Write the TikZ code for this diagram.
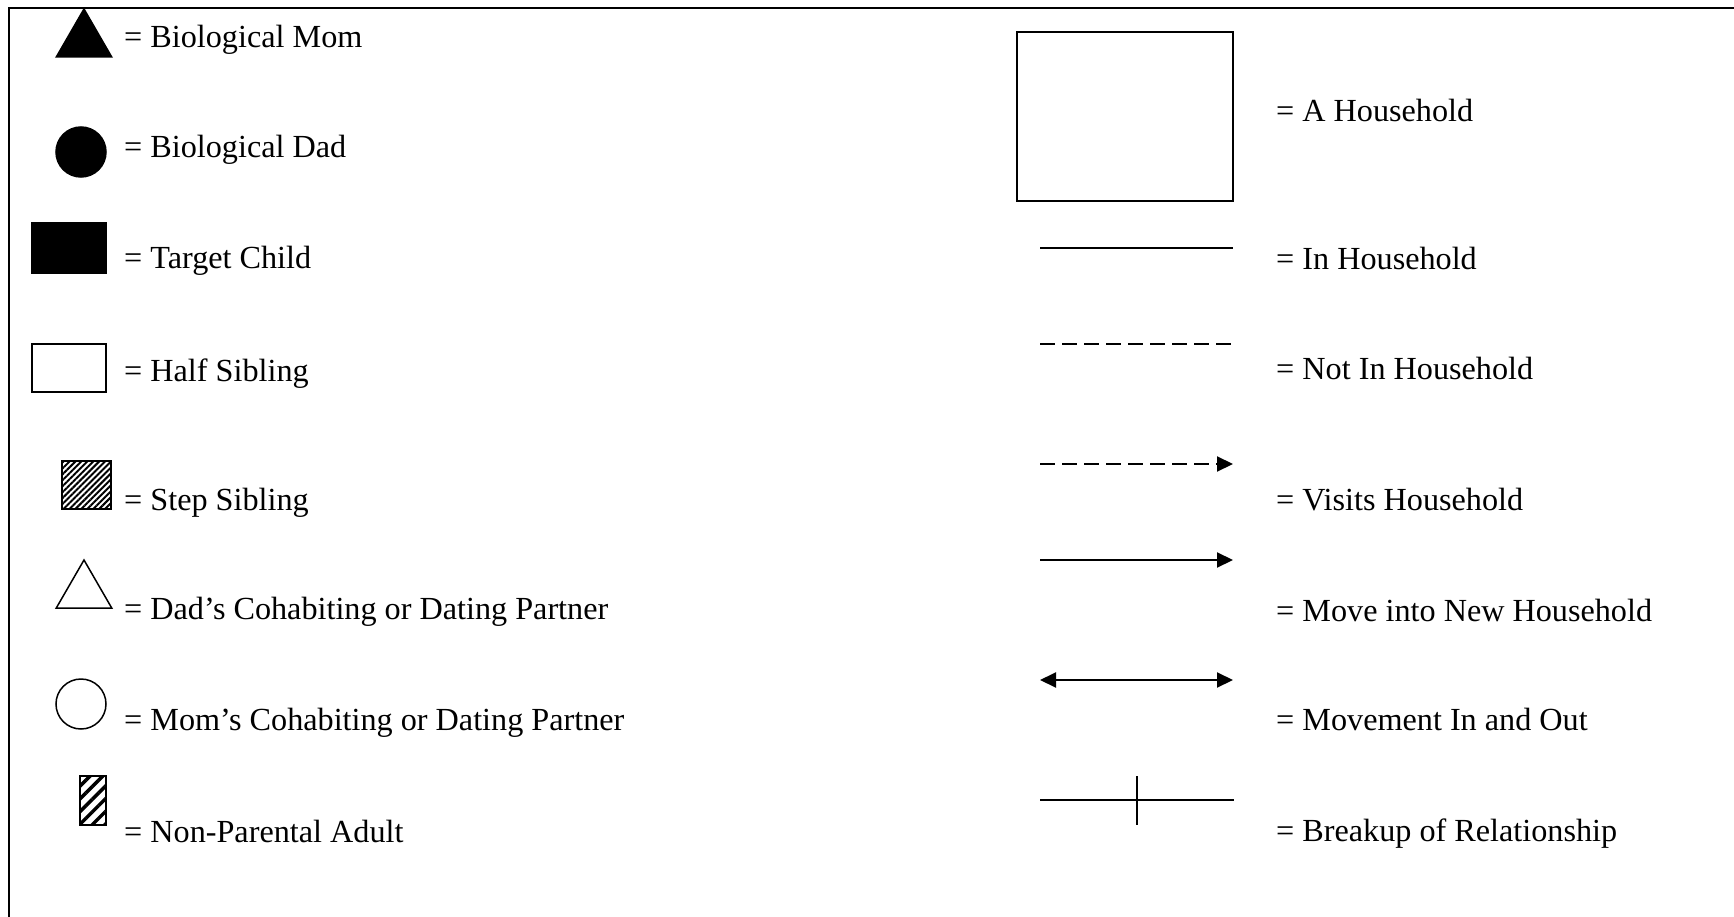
\documentclass[tikz,border=0pt]{standalone}
\usepackage{fontspec}
\setmainfont{Liberation Serif}
\usepackage{tikz}
\usetikzlibrary{arrows.meta, shapes.geometric, patterns.meta}
\newcommand{\legendsize}{\fontsize{32.2}{39}\selectfont}

\begin{document}
\begin{tikzpicture}[x=1pt, y=-1pt,
  sym/.style = {draw, line width=1.5pt, inner sep=0pt},
  tri/.style = {sym, regular polygon, regular polygon sides=3, minimum size=64pt},
  box/.style = {sym, rectangle},
  lbl/.style = {anchor=base west, inner sep=0pt, font=\legendsize},
  link/.style = {line width=2pt},
  tip/.style = {-{Triangle[length=16pt, width=15pt]}},
  gap/.style = {dash pattern=on 15pt off 7pt}]
\useasboundingbox (0,0) rectangle (1734,917);
\draw [line width=2pt] (9,917) -- (9,8) -- (1734,8);

\node[tri, fill=black](mom) at (84,41){};
\node[sym, circle, fill=black, minimum size=50pt](dad) at (81,152){};
\node[box, fill=black, minimum width=74pt, minimum height=50pt](kid) at (69,248){};
\node[box, minimum width=74pt, minimum height=48pt](half) at (69,368){};
\node[box, minimum width=49pt, minimum height=48pt, pattern={Lines[angle=45, distance=4.2pt, line width=2pt]}](step) at (86.5,485){};
\node[tri](dadp) at (84,592){};
\node[sym, circle, minimum size=50pt](momp) at (81,704){};
\node[box, minimum width=26pt, minimum height=49pt, pattern={Lines[angle=45, distance=9pt, line width=3.5pt]}](npa) at (93,800.5){};

\node[lbl](mom-t) at (124,48){= Biological Mom};
\node[lbl](dad-t) at (124,158){= Biological Dad};
\node[lbl](kid-t) at (124,269){= Target Child};
\node[lbl](half-t) at (124,381){= Half Sibling};
\node[lbl](step-t) at (124,510){= Step Sibling};
\node[lbl](dadp-t) at (124,619){= Dad’s Cohabiting or Dating Partner};
\node[lbl](momp-t) at (124,730){= Mom’s Cohabiting or Dating Partner};
\node[lbl](npa-t) at (124,842){= Non-Parental Adult};

\node[box, line width=2pt, minimum width=216pt, minimum height=169pt](home) at (1125,116.5){};
\coordinate (in-a) at (1040,248);  \coordinate (in-b) at (1233,248);
\coordinate (out-a) at (1040,344); \coordinate (out-b) at (1233,344);
\coordinate (vis-a) at (1040,464); \coordinate (vis-b) at (1233,464);
\coordinate (mov-a) at (1040,560); \coordinate (mov-b) at (1233,560);
\coordinate (io-a) at (1040,680);  \coordinate (io-b) at (1233,680);
\coordinate (brk-a) at (1040,800); \coordinate (brk-b) at (1234,800);
\coordinate (brk-c) at (1137,776); \coordinate (brk-d) at (1137,825);
\draw[link] (in-a) -- (in-b);
\draw[link, gap] (out-a) -- (out-b);
\draw[link, gap, tip] (vis-a) -- (vis-b);
\draw[link, tip] (mov-a) -- (mov-b);
\draw[link, {Triangle[length=16pt, width=15pt]}-{Triangle[length=16pt, width=15pt]}] (io-a) -- (io-b);
\draw[link] (brk-a) -- (brk-b);
\draw[link] (brk-c) -- (brk-d);

\node[lbl](home-t) at (1276,122){= A Household};
\node[lbl](in-t) at (1276,270){= In Household};
\node[lbl](out-t) at (1276,379){= Not In Household};
\node[lbl](vis-t) at (1276,510){= Visits Household};
\node[lbl](mov-t) at (1276,621){= Move into New Household};
\node[lbl](io-t) at (1276,730){= Movement In and Out};
\node[lbl](brk-t) at (1276,841){= Breakup of Relationship};
\end{tikzpicture}
\end{document}
